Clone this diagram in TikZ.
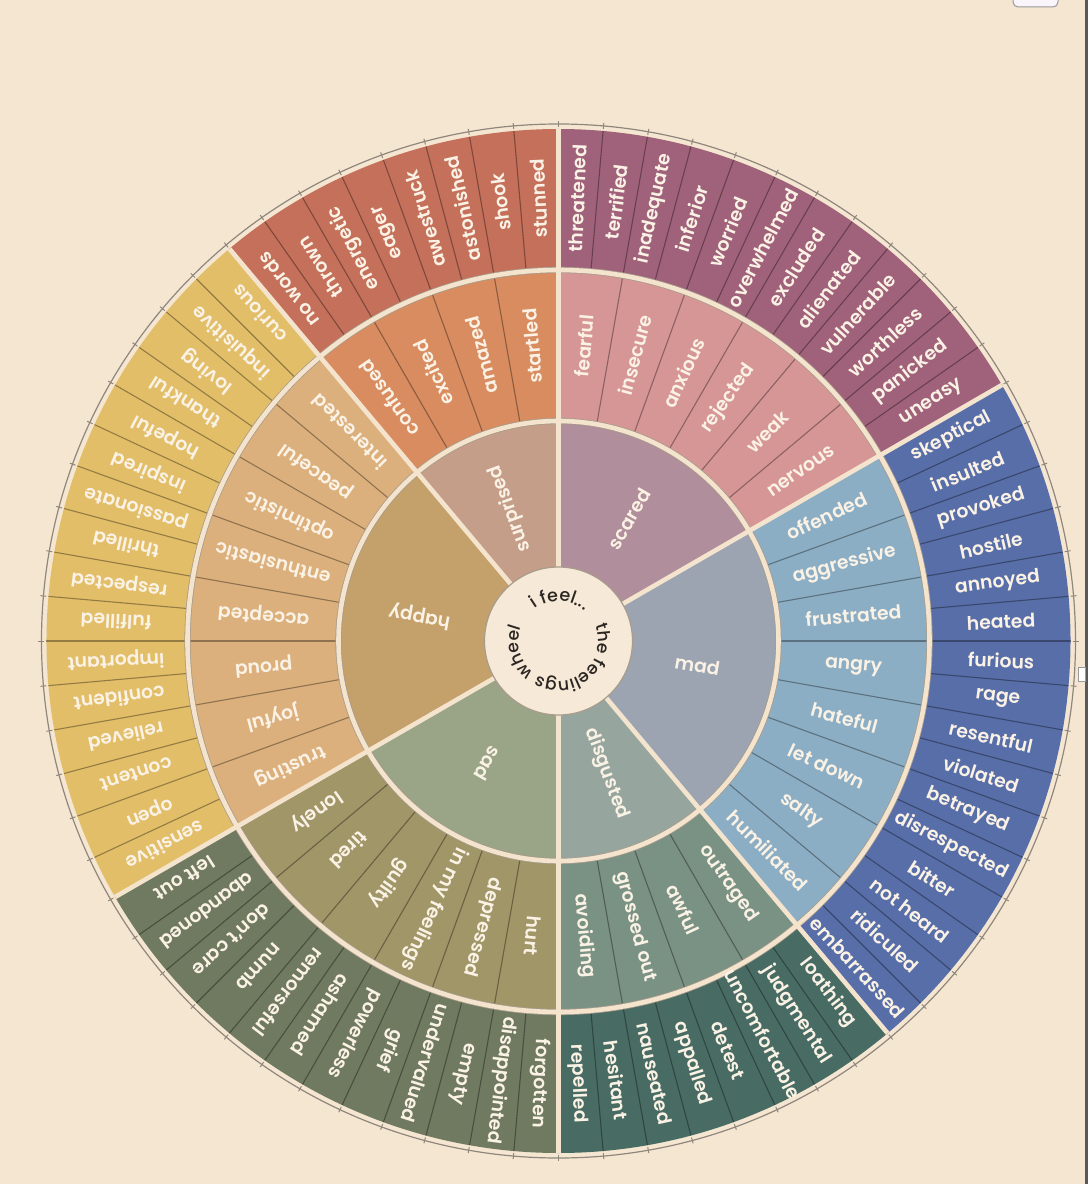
\documentclass[tikz,border=0pt]{standalone}
\usepackage{fontspec}
\setmainfont{Poppins}[UprightFont=* SemiBold]
\newfontfamily\hubfont{Poppins}[UprightFont=* Medium]
\usetikzlibrary{decorations.text}
\definecolor{bg}{HTML}{F5E6D2}
\definecolor{hub}{HTML}{F6E9D8}
\definecolor{beige}{HTML}{F4E4CE}
\definecolor{edgegrey}{HTML}{A89C8C}
\definecolor{outl}{HTML}{8F877C}
\definecolor{labcol}{HTML}{FBF2E6}
\definecolor{hubtext}{HTML}{2B2622}
\definecolor{scC}{HTML}{B08E9B}\definecolor{scM}{HTML}{D69696}\definecolor{scO}{HTML}{A0627A}
\definecolor{maC}{HTML}{9CA4B2}\definecolor{maM}{HTML}{8CAEC4}\definecolor{maO}{HTML}{586EA8}
\definecolor{diC}{HTML}{96A69E}\definecolor{diM}{HTML}{7A9284}\definecolor{diO}{HTML}{486C64}
\definecolor{saC}{HTML}{9AA486}\definecolor{saM}{HTML}{A09668}\definecolor{saO}{HTML}{707A60}
\definecolor{haC}{HTML}{C4A06A}\definecolor{haM}{HTML}{DCB07C}\definecolor{haO}{HTML}{E2BE68}
\definecolor{suC}{HTML}{C49E88}\definecolor{suM}{HTML}{D88C60}\definecolor{suO}{HTML}{C4705A}
\begin{document}
\begin{tikzpicture}[x=0.5pt,y=0.5pt,
  lab/.style={text=labcol, font=\fontsize{9.4}{10}\selectfont, inner sep=0pt},
  itemsep/.style={draw=black, draw opacity=0.35, line width=0.55pt},
  ringsep/.style={draw=beige, line width=2.3pt},
  ringedge/.style={draw=edgegrey, line width=3.1pt}]
\useasboundingbox (-558.5,-543) rectangle (529.5,641);
\fill[bg] (-558.5,-543) rectangle (529.5,641);
% sectors
\foreach \s/\e/\cc/\cm/\co in {90/30/scC/scM/scO, 30/-50/maC/maM/maO, -50/-90/diC/diM/diO, -90/-150/saC/saM/saO, -150/-230/haC/haM/haO, -230/-270/suC/suM/suO}{
  \fill[\co] (0,0) -- (\s:512) arc[start angle=\s, end angle=\e, radius=512] -- cycle;
  \fill[\cm] (0,0) -- (\s:371) arc[start angle=\s, end angle=\e, radius=371] -- cycle;
  \fill[\cc] (0,0) -- (\s:220) arc[start angle=\s, end angle=\e, radius=220] -- cycle;
}
% item separators
\foreach \k in {0,...,71}{ \draw[itemsep] (90-5*\k:372) -- (90-5*\k:512); }
\foreach \k in {0,...,35}{ \draw[itemsep] (90-10*\k:221) -- (90-10*\k:370); }
% ring separators
\draw[ringedge] (0,0) circle[radius=371];
\draw[ringsep] (0,0) circle[radius=371];
\draw[ringedge] (0,0) circle[radius=220];
\draw[ringsep] (0,0) circle[radius=220];
\foreach \a in {90,30,-50,-90,-150,-230}{ \draw[ringsep] (\a:70) -- (\a:512); }
% outline and ticks
\draw[outl, line width=0.6pt] (0,0) circle[radius=517];
\foreach \k in {0,...,71}{ \draw[outl, line width=0.5pt] (90-5*\k:514) -- (90-5*\k:520); }
% hub
\fill[hub] (0,0) circle[radius=74];
\draw[edgegrey, line width=0.6pt] (0,0) circle[radius=74];
\node[inner sep=0pt] (hubc) at (0,0) {};
\path[decorate, decoration={text along path, text={|\hubfont\fontsize{8.8}{9}\selectfont|i feel...}, text align=center, text color=hubtext}] (124:40) arc[start angle=124, end angle=52, radius=40];
\path[decorate, decoration={text along path, text={|\hubfont\fontsize{8.6}{9}\selectfont|the feelings wheel}, text align=center, text color=hubtext}] (20:40) arc[start angle=20, end angle=-198, radius=40];
% core labels
\foreach \t/\a in {scared/60, mad/-10, disgusted/-70, sad/-120, happy/170, surprised/110}{
  \node[lab, rotate=\a] (c-\t) at (\a:141) {\t};
}
% middle labels
\foreach \t [count=\i from 0, evaluate=\i as \a using 85-10*\i] in {fearful, insecure, anxious, rejected, weak, nervous, offended, aggressive, frustrated, angry, hateful, let down, salty, humiliated, outraged, awful, grossed out, avoiding, hurt, depressed, in my feelings, guilty, tired, lonely, trusting, joyful, proud, accepted, enthusiastic, optimistic, peaceful, interested, confused, excited, amazed, startled}{
  \node[lab, rotate=\a] (m\i) at (\a:296) {\t};
}
% outer labels
\foreach \t [count=\i from 0, evaluate=\i as \a using 87.5-5*\i] in {threatened, terrified, inadequate, inferior, worried, overwhelmed, excluded, alienated, vulnerable, worthless, panicked, uneasy, skeptical, insulted, provoked, hostile, annoyed, heated, furious, rage, resentful, violated, betrayed, disrespected, bitter, not heard, ridiculed, embarrassed, loathing, judgmental, uncomfortable, detest, appalled, nauseated, hesitant, repelled, forgotten, disappointed, empty, undervalued, grief, powerless, ashamed, remorseful, numb, don't care, abandoned, left out, sensitive, open, content, relieved, confident, important, fulfilled, respected, thrilled, passionate, inspired, hopeful, thankful, loving, inquisitive, curious, no words, thrown, energetic, eager, awestruck, astonished, shook, stunned}{
  \node[lab, rotate=\a] (o\i) at (\a:443) {\t};
}
% screen artefacts
\fill[black!65] (526.5,-543) rectangle (529.5,641);
\draw[black!40, fill=white, line width=0.4pt] (519.5,-26) rectangle (527,-40);
\draw[black!40, fill=white!96!violet, line width=0.5pt, rounded corners=2.5pt] (454.5,648) rectangle (499.5,634);
\end{tikzpicture}
\end{document}
